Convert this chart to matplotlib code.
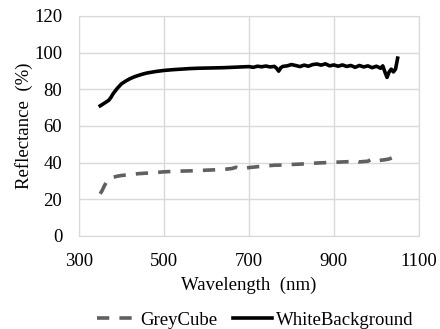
import matplotlib
matplotlib.use('Agg')
import matplotlib.pyplot as plt

# ========== Datos ==========

wl_white = [350, 360, 370, 375, 380, 390, 400, 410, 420, 430, 440, 450, 460, 470, 480, 490,
            500, 520, 540, 560, 580, 600, 620, 640, 660, 680, 700, 710, 720, 730, 740, 750,
            760, 765, 770, 775, 780, 790, 800, 810, 820, 830, 840, 850, 860, 870, 880, 890,
            900, 910, 920, 930, 940, 950, 960, 970, 980, 990, 1000, 1010, 1015, 1020, 1025,
            1030, 1035, 1040, 1045, 1050]
refl_white = [71.0, 72.5, 74.0, 75.5, 77.5, 80.5, 83.0, 84.5, 85.8, 86.8, 87.6, 88.3, 88.9, 89.3, 89.7, 90.0,
              90.3, 90.7, 91.0, 91.3, 91.5, 91.6, 91.7, 91.8, 92.0, 92.2, 92.4, 92.0, 92.6, 92.3, 92.7, 92.2,
              92.5, 91.5, 89.9, 91.8, 92.5, 92.8, 93.5, 93.0, 92.4, 93.2, 92.6, 93.5, 93.8, 93.2, 93.9, 92.8,
              93.3, 92.6, 93.3, 92.5, 93.0, 92.0, 93.0, 92.2, 92.8, 91.8, 92.6, 91.5, 92.8, 89.5, 86.5,
              89.5, 91.0, 89.5, 91.0, 97.0]

wl_grey = [350, 355, 360, 365, 370, 380, 390, 400, 420, 440, 460, 480, 500, 520, 540, 560,
           580, 600, 620, 640, 660, 670, 680, 700, 720, 740, 760, 780, 800, 820, 840, 860,
           880, 900, 920, 940, 950, 960, 980, 990, 1000, 1010, 1020, 1030, 1040, 1050]
refl_grey = [23.0, 25.0, 27.5, 29.5, 31.0, 32.0, 32.6, 33.0, 33.5, 34.0, 34.3, 34.6, 35.0, 35.2, 35.4, 35.5,
             35.7, 35.9, 36.1, 36.3, 36.8, 37.5, 36.6, 37.3, 37.8, 38.2, 38.6, 38.7, 39.0, 39.2, 39.5, 39.8,
             40.0, 40.2, 40.4, 40.6, 41.2, 40.4, 40.8, 42.0, 41.0, 41.3, 41.6, 42.0, 43.0, 46.0]

x_ticks = [300, 500, 700, 900, 1100]
y_ticks = [0, 20, 40, 60, 80, 100, 120]

# ========== Grafica ==========

plt.rcParams['font.family'] = ['Liberation Serif', 'DejaVu Serif']
fs = 13.5

fig = plt.figure(figsize=(4.4, 3.29), dpi=100)
ax = fig.add_axes([0.1795, 0.2827, 0.7725, 0.6687])

ax.plot(wl_grey, refl_grey, color='#606060', lw=2.6, dashes=(3.4, 2.8), label='GreyCube')
ax.plot(wl_white, refl_white, color='black', lw=2.6, label='WhiteBackground')

ax.set_xlim(300, 1100)
ax.set_ylim(0, 120)
ax.set_xticks(x_ticks)
ax.set_yticks(y_ticks)
ax.tick_params(length=0, labelsize=fs)
ax.tick_params(axis='x', pad=12)
ax.tick_params(axis='y', pad=12)
ax.grid(True, color='#d9d9d9', lw=1)
ax.set_axisbelow(True)
for s in ax.spines.values():
    s.set_color('#d9d9d9')

ax.set_xlabel('Wavelength  (nm)', fontsize=fs, labelpad=5)
ax.set_ylabel('Reflectance  (%)', fontsize=fs, labelpad=0.5)

fig.legend(loc='lower center', ncol=2, frameon=False, fontsize=fs,
           handlelength=2.1, handletextpad=0.2, columnspacing=0.8,
           bbox_to_anchor=(0.58, -0.05))

plt.savefig('out.png', dpi=100)
plt.close(fig)
